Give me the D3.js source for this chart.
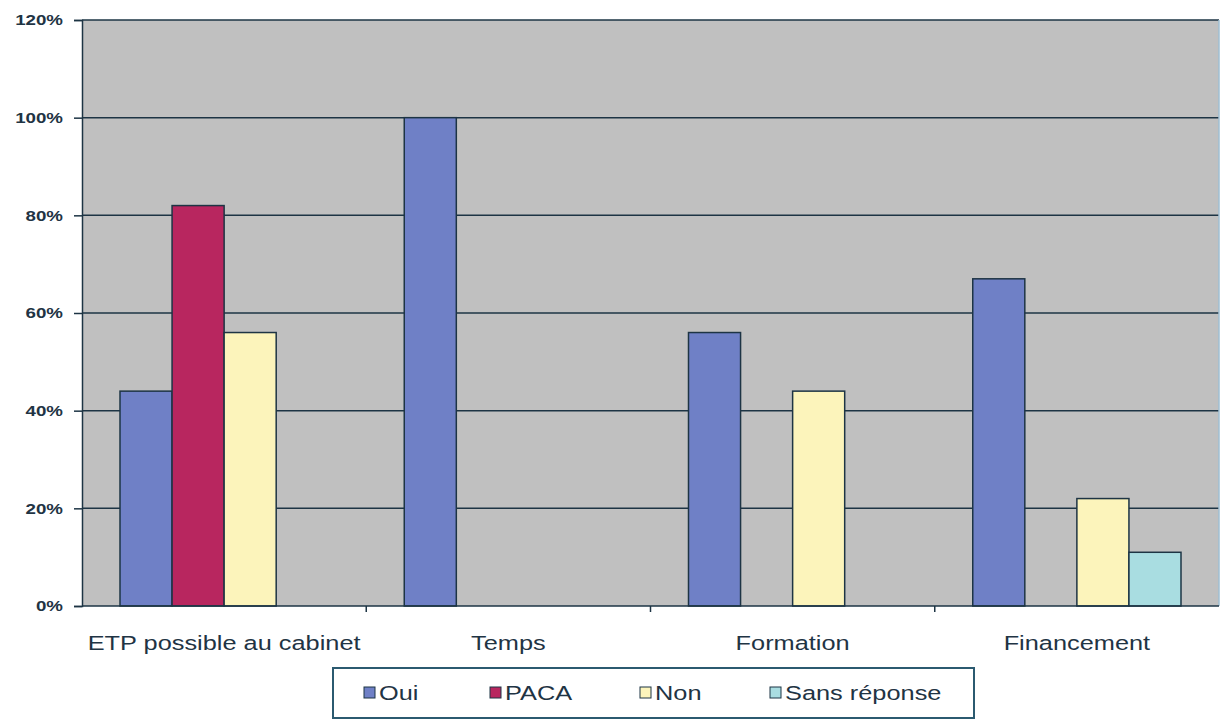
<!DOCTYPE html>
<html><head><meta charset="utf-8">
<script src="https://cdn.jsdelivr.net/npm/d3@7"></script>
<style>body{margin:0;background:#fff;}svg{display:block;font-family:"Liberation Sans",Arial,sans-serif;}</style>
</head><body>
<svg id="c" width="1221" height="722"></svg>
<script>
const categories = ["ETP possible au cabinet", "Temps", "Formation", "Financement"];
const seriesNames = ["Oui", "PACA", "Non", "Sans réponse"];
const oui = [0.44, 1.00, 0.56, 0.67];
const paca = [0.82, 0, 0, 0];
const non = [0.56, 0, 0.44, 0.22];
const sansReponse = [0, 0, 0, 0.11];
const yTicks = [0, 0.2, 0.4, 0.6, 0.8, 1.0, 1.2];
const colors = ["#6f80c6", "#b8265f", "#fcf4bb", "#a9dde1"];

const seriesValues = [oui, paca, non, sansReponse];
const svg = d3.select("#c");
const m = {l: 82, r: 1219, t: 20, b: 606};
const SX = 1.3;
const textColor = "#1f3444";
const x0 = d3.scaleBand().domain(categories).range([m.l, m.r]).padding(0);
const x1 = d3.scaleBand().domain(seriesNames).range([38, x0.bandwidth() - 38]).padding(0);
const y = d3.scaleLinear().domain([0, 1.2]).range([m.b, m.t]);

// plot bg
svg.append("rect").attr("x", m.l).attr("y", m.t).attr("width", m.r - m.l).attr("height", m.b - m.t).attr("fill", "#c0c0c0");
// gridlines
svg.append("g").selectAll("line").data(yTicks.filter(d => d > 0)).join("line")
  .attr("x1", m.l).attr("x2", m.r).attr("y1", d => y(d)).attr("y2", d => y(d))
  .attr("stroke", "#1d3444").attr("stroke-width", 1.5);
// right border
svg.append("line").attr("x1", m.r).attr("x2", m.r).attr("y1", m.t).attr("y2", m.b).attr("stroke", "#9fbfd3").attr("stroke-width", 1.5);

// bars
const g = svg.append("g");
seriesNames.forEach((s, si) => {
  g.selectAll(null).data(categories.map((c, ci) => ({c, v: seriesValues[si][ci]})).filter(d => d.v > 0)).join("rect")
    .attr("x", d => x0(d.c) + x1(s))
    .attr("y", d => y(d.v))
    .attr("width", x1.bandwidth())
    .attr("height", d => y(0) - y(d.v))
    .attr("fill", colors[si])
    .attr("stroke", "#1d3444").attr("stroke-width", 1.5);
});

// y axis
const yAxis = d3.axisLeft(y).tickValues(yTicks).tickFormat(d3.format(".0%")).tickSize(8).tickPadding(0);
const ya = svg.append("g").attr("transform", `translate(${m.l},0)`).call(yAxis);
ya.select(".domain").attr("stroke", "#1d3444").attr("stroke-width", 1.5);
ya.selectAll(".tick line").attr("stroke", "#1d3444").attr("stroke-width", 1.5);
ya.selectAll(".tick text").attr("x", 0).attr("transform", `translate(-19,0) scale(${SX * 0.96},1)`)
  .attr("font-size", 15).attr("font-weight", "bold").attr("fill", textColor).attr("font-family", "Liberation Sans, Arial, sans-serif");

// x axis
const xa = svg.append("g").attr("transform", `translate(0,${m.b})`);
xa.append("line").attr("x1", m.l).attr("x2", m.r).attr("stroke", "#1d3444").attr("stroke-width", 1.5);
xa.selectAll(".bt").data(categories.slice(1)).join("line").attr("class", "bt")
  .attr("x1", d => x0(d)).attr("x2", d => x0(d)).attr("y1", 0).attr("y2", 6).attr("stroke", "#1d3444").attr("stroke-width", 1.5);
xa.selectAll("text").data(categories).join("text")
  .attr("transform", d => `translate(${x0(d) + x0.bandwidth() / 2},44) scale(${SX},1)`)
  .attr("text-anchor", "middle").attr("font-size", 19.5).attr("fill", textColor)
  .text(d => d);

// legend
const lg = svg.append("g");
lg.append("rect").attr("x", 333).attr("y", 668).attr("width", 641).attr("height", 50)
  .attr("fill", "#fff").attr("stroke", "#2b5a70").attr("stroke-width", 2);
const legX = [364, 490, 640, 770];
seriesNames.forEach((s, i) => {
  lg.append("rect").attr("x", legX[i]).attr("y", 687).attr("width", 11).attr("height", 11)
    .attr("fill", colors[i]).attr("stroke", "#1d3444").attr("stroke-width", 1);
  lg.append("text").attr("transform", `translate(${legX[i] + 15},700) scale(${SX},1)`)
    .attr("font-size", 19.5).attr("fill", textColor).text(s);
});
</script>
</body></html>
